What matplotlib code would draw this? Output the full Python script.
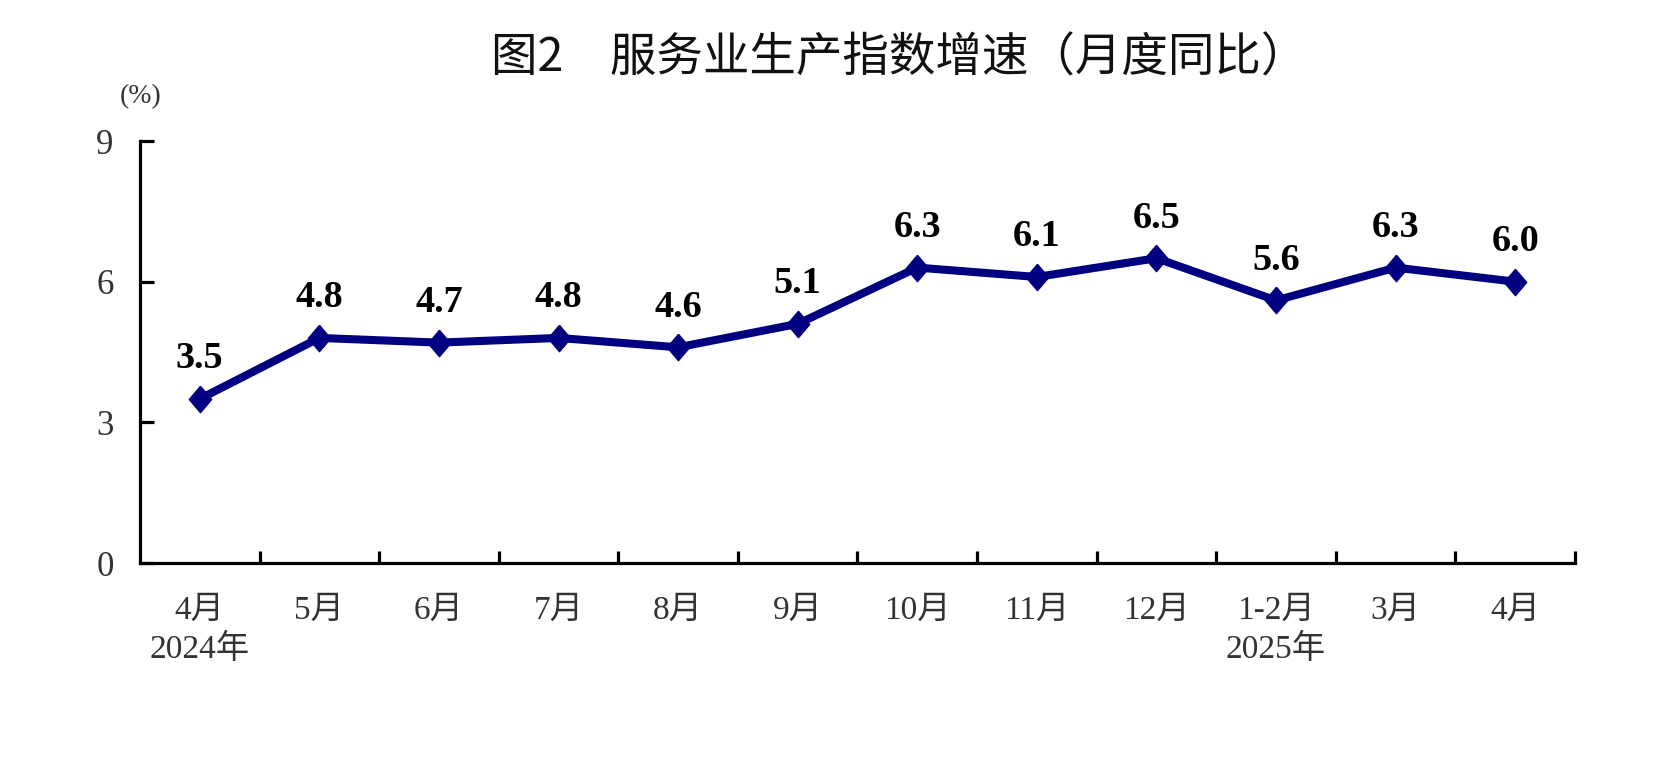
import matplotlib
matplotlib.use("Agg")
import matplotlib.pyplot as plt
from matplotlib.ticker import FixedLocator, NullFormatter, FixedFormatter

# ---- data ----
categories = ["4月\n2024年", "5月", "6月", "7月", "8月", "9月", "10月", "11月", "12月",
              "1-2月\n2025年", "3月", "4月"]
values = [3.5, 4.8, 4.7, 4.8, 4.6, 5.1, 6.3, 6.1, 6.5, 5.6, 6.3, 6.0]
yticks = [0, 3, 6, 9]
title = "图2　服务业生产指数增速（月度同比）"
unit_label = "(%)"

line_color = "#000080"
serif_cjk = ["Liberation Serif", "Noto Sans CJK SC"]

fig = plt.figure(figsize=(16.59, 7.74), dpi=100)
ax = fig.add_axes([140 / 1659, 1 - 563 / 774, (1575 - 140) / 1659, (563 - 141) / 774])

x = list(range(len(values)))
diamond = [(0, 1), (0.85, 0), (0, -1), (-0.85, 0), (0, 1)]
ax.plot(x, values, color=line_color, lw=5.8, marker=diamond, ms=19,
        mfc=line_color, mec=line_color, mew=1, solid_joinstyle="miter", zorder=3)

for xi, v in zip(x, values):
    ax.annotate(f"{v:.1f}", (xi, v), xytext=(0, 22), textcoords="offset points",
                ha="center", va="baseline", fontsize=27.5, fontweight="bold",
                family=["Liberation Serif"], color="black")

ax.set_xlim(-0.5, len(values) - 0.5)
ax.set_ylim(0, 9)

# spines
for s in ["top", "right"]:
    ax.spines[s].set_visible(False)
for s in ["left", "bottom"]:
    ax.spines[s].set_linewidth(2.3)
    ax.spines[s].set_color("black")

# y ticks
ax.set_yticks(yticks)
ax.set_yticklabels([str(t) for t in yticks], family=serif_cjk, fontsize=25, color="#333333")
ax.tick_params(axis="y", direction="in", length=10, width=2.3, pad=19)

# x ticks: major at boundaries, labels at minor (centers)
bounds = [i + 0.5 for i in range(len(values))]
ax.xaxis.set_major_locator(FixedLocator(bounds))
ax.xaxis.set_major_formatter(NullFormatter())
ax.xaxis.set_minor_locator(FixedLocator(x))
ax.xaxis.set_minor_formatter(FixedFormatter(categories))
ax.tick_params(axis="x", which="major", direction="in", length=9, width=2.3)
ax.tick_params(axis="x", which="minor", length=0, pad=23)
for lbl in ax.xaxis.get_minorticklabels():
    lbl.set_family(serif_cjk)
    lbl.set_fontsize(24)
    lbl.set_color("#333333")
    lbl.set_linespacing(1.35)
    lbl.set_verticalalignment("top")

fig.text(899 / 1659, 1 - 58 / 774, title, ha="center", va="center",
         fontsize=33.5, family=["Noto Sans CJK SC", "DejaVu Sans"], color="#111111")
fig.text(141 / 1659, 1 - 97 / 774, unit_label, ha="center", va="center",
         fontsize=20, family=serif_cjk, color="#333333")

fig.savefig("out.png", dpi=100)
